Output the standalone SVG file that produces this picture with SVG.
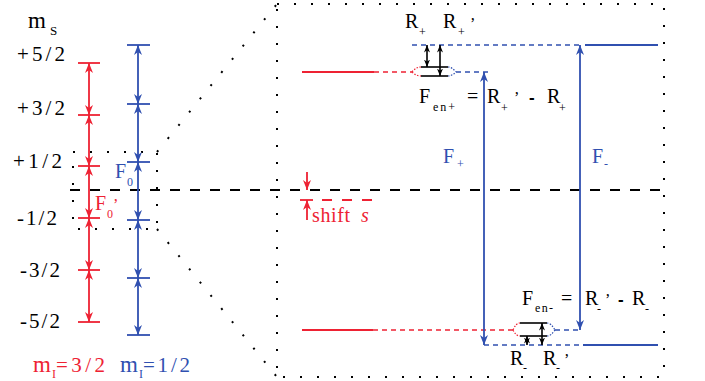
<svg xmlns="http://www.w3.org/2000/svg" width="705" height="381" viewBox="0 0 705 381" font-family="'Liberation Serif','DejaVu Serif',serif">
<defs>
<style>
.r{stroke:#ee2233;fill:none;stroke-width:1.8}
.b{stroke:#3050b0;fill:none;stroke-width:1.8}
.k{stroke:#000;fill:none;stroke-width:1.6}
.rd{stroke:#ee2233;fill:none;stroke-width:1.5;stroke-dasharray:5 4}
.bd{stroke:#3050b0;fill:none;stroke-width:1.5;stroke-dasharray:5 4}
.rdot{stroke:#ee2233;fill:none;stroke-width:1.2;stroke-dasharray:1.5 1.5}
.bdot{stroke:#3050b0;fill:none;stroke-width:1.2;stroke-dasharray:1.5 1.5}
.dot{stroke:#000;fill:none;stroke-width:2;stroke-dasharray:2 15}
.dash{stroke:#000;fill:none;stroke-width:2;stroke-dasharray:10 10}
.ra{marker-start:url(#mr);marker-end:url(#mr)}
.ba{marker-start:url(#mb);marker-end:url(#mb)}
.ka{marker-start:url(#mk);marker-end:url(#mk)}
text{font-family:'Liberation Serif','DejaVu Serif',serif;font-size:20px;fill:#000}
.tr{fill:#ee2233}
.tb{fill:#3050b0}
.s{font-size:12px}
.sans{font-family:'Liberation Sans','DejaVu Sans',sans-serif;font-weight:bold;font-size:17px}
</style>
<marker id="mr" viewBox="0 0 10 8" refX="10" refY="4" markerWidth="10" markerHeight="8" orient="auto-start-reverse" markerUnits="userSpaceOnUse"><path d="M0,0 L10,4 L0,8 L3,4 Z" fill="#ee2233"/></marker>
<marker id="mb" viewBox="0 0 10 8" refX="10" refY="4" markerWidth="10" markerHeight="8" orient="auto-start-reverse" markerUnits="userSpaceOnUse"><path d="M0,0 L10,4 L0,8 L3,4 Z" fill="#3050b0"/></marker>
<marker id="mk" viewBox="0 0 10 8" refX="10" refY="4" markerWidth="7.5" markerHeight="6" orient="auto-start-reverse" markerUnits="userSpaceOnUse"><path d="M0,0 L10,4 L0,8 L3,4 Z" fill="#000"/></marker>
</defs>

<!-- frames and zoom lines -->
<g id="frames">
<rect class="dot" x="73" y="152" width="84" height="77"/>
<rect class="dot" x="277" y="4" width="387" height="373"/>
<line class="dot" x1="157" y1="152" x2="277" y2="4"/>
<line class="dot" x1="157" y1="229" x2="277" y2="377"/>
<line class="dash" x1="70" y1="190" x2="660" y2="190"/>
</g>

<!-- left axis labels -->
<g id="ms-labels">
<text x="28" y="28" style="font-size:23px">m</text><text class="s" x="50" y="35" style="font-size:13px">S</text>
<text x="17" y="61" style="font-size:21px" textLength="48">+5/2</text>
<text x="17" y="115" style="font-size:21px" textLength="48">+3/2</text>
<text x="13" y="168" style="font-size:21px" textLength="49">+1/2</text>
<text x="17" y="225" style="font-size:21px" textLength="40">-1/2</text>
<text x="20" y="277" style="font-size:21px" textLength="40">-3/2</text>
<text x="20" y="328" style="font-size:21px" textLength="40">-5/2</text>
</g>

<!-- red ladder mI=3/2 -->
<g id="red-ladder">
<g class="r">
<line x1="78" y1="63" x2="100" y2="63"/>
<line x1="78" y1="115" x2="100" y2="115"/>
<line x1="78" y1="166" x2="100" y2="166"/>
<line x1="78" y1="218" x2="100" y2="218"/>
<line x1="78" y1="270" x2="100" y2="270"/>
<line x1="78" y1="322" x2="100" y2="322"/>
</g>
<g class="r ra">
<line x1="89" y1="63" x2="89" y2="115"/>
<line x1="89" y1="115" x2="89" y2="166"/>
<line x1="89" y1="166" x2="89" y2="218"/>
<line x1="89" y1="218" x2="89" y2="270"/>
<line x1="89" y1="270" x2="89" y2="322"/>
</g>
<text class="tr" x="95" y="210">F</text><text class="tr s" x="107" y="218">0</text><text class="tr" x="113" y="210" style="font-size:16px">’</text>
<text class="tr" x="33" y="372" style="font-size:23px">m</text><text class="tr s" x="52" y="378">I</text><text class="tr" x="56" y="372" style="font-size:21px" textLength="49">=3/2</text>
</g>

<!-- blue ladder mI=1/2 -->
<g id="blue-ladder">
<g class="b">
<line x1="127" y1="45" x2="150" y2="45"/>
<line x1="127" y1="104" x2="150" y2="104"/>
<line x1="127" y1="162" x2="150" y2="162"/>
<line x1="127" y1="220" x2="150" y2="220"/>
<line x1="127" y1="278" x2="150" y2="278"/>
<line x1="127" y1="335" x2="150" y2="335"/>
</g>
<g class="b ba">
<line x1="138" y1="45" x2="138" y2="104"/>
<line x1="138" y1="104" x2="138" y2="162"/>
<line x1="138" y1="162" x2="138" y2="220"/>
<line x1="138" y1="220" x2="138" y2="278"/>
<line x1="138" y1="278" x2="138" y2="335"/>
</g>
<text class="tb" x="115" y="178">F</text><text class="tb s" x="127" y="186">0</text>
<text class="tb" x="120" y="372" style="font-size:23px">m</text><text class="tb s" x="139" y="378">I</text><text class="tb" x="143" y="372" style="font-size:21px" textLength="47">=1/2</text>
</g>

<!-- shift s -->
<g id="shift">
<line class="r" x1="307" y1="172" x2="307" y2="190" style="marker-end:url(#mr)"/>
<line class="r" x1="307" y1="220" x2="307" y2="200" style="marker-end:url(#mr)"/>
<line class="r" x1="300" y1="200" x2="313" y2="200"/>
<line class="r" x1="322" y1="200" x2="372" y2="200" style="stroke-dasharray:10 10"/>
<text class="tr" x="312" y="222" textLength="38">shift</text><text class="tr" x="361" y="222" style="font-style:italic">s</text>
</g>

<!-- upper levels (inset) -->
<g id="upper-levels">
<line class="r" x1="302" y1="72" x2="374" y2="72"/>
<line class="rd" x1="374" y1="72" x2="412" y2="72"/>
<path class="rdot" d="M412,72 Q416,67 421,67 M412,72 Q416,76 421,76"/>
<line class="k" x1="421" y1="67" x2="448" y2="67"/>
<line class="k" x1="421" y1="76" x2="448" y2="76"/>
<path class="bdot" d="M448,67 Q452,67 456,72 M448,76 Q452,76 456,72"/>
<line class="bd" x1="456" y1="72" x2="490" y2="72"/>
<line class="bd" x1="412" y1="45" x2="582" y2="45"/>
<line class="b" x1="585" y1="45" x2="658" y2="45"/>
<line class="k ka" x1="427" y1="45" x2="427" y2="67"/>
<line class="k ka" x1="440" y1="45" x2="440" y2="76"/>
<text x="405" y="28">R</text><text class="s" x="419" y="36">+</text>
<text x="443" y="28">R</text><text class="s" x="458" y="36">+</text><text x="470" y="29" style="font-size:16px">’</text>
<text x="419" y="103">F</text><text class="s" x="433" y="111" textLength="22">en+</text>
<text x="467" y="103">=</text>
<text x="487" y="103">R</text><text class="s" x="501" y="112">+</text><text x="514" y="103" style="font-size:16px">’</text>
<text class="sans" x="529" y="103">-</text>
<text x="547" y="103">R</text><text class="s" x="559" y="112">+</text>
</g>

<!-- lower levels (inset) -->
<g id="lower-levels">
<line class="r" x1="302" y1="330" x2="373" y2="330"/>
<line class="rd" x1="373" y1="330" x2="513" y2="330"/>
<path class="rdot" d="M513,330 Q516,323 520,323 M513,330 Q516,336 520,336"/>
<line class="k" x1="520" y1="323" x2="547" y2="323"/>
<line class="k" x1="520" y1="336" x2="547" y2="336"/>
<path class="bdot" d="M547,323 Q551,323 555,330 M547,336 Q551,336 555,330"/>
<line class="bd" x1="555" y1="330" x2="580" y2="330"/>
<line class="bd" x1="484" y1="345" x2="582" y2="345"/>
<line class="b" x1="583" y1="345" x2="658" y2="345"/>
<line class="k ka" x1="527" y1="336" x2="527" y2="345"/>
<line class="k ka" x1="542" y1="323" x2="542" y2="345"/>
<text x="522" y="305">F</text><text class="s" x="535" y="312" textLength="18">en-</text>
<text x="561" y="305">=</text>
<text x="585" y="305">R</text><text class="s" x="597" y="313">-</text><text x="605" y="305" style="font-size:16px">’</text>
<text class="sans" x="618" y="305">-</text>
<text x="632" y="305">R</text><text class="s" x="645" y="313">-</text>
<text x="510" y="365">R</text><text class="s" x="523" y="372">-</text>
<text x="543" y="365">R</text><text class="s" x="556" y="372">-</text><text x="564" y="365" style="font-size:16px">’</text>
</g>

<!-- transitions -->
<g id="connectors">
<line class="b ba" x1="484" y1="72" x2="484" y2="345"/>
<line class="b ba" x1="580" y1="45" x2="580" y2="330"/>
<text class="tb" x="443" y="163">F</text><text class="tb s" x="457" y="168">+</text>
<text class="tb" x="592" y="163">F</text><text class="tb s" x="604" y="168">-</text>
</g>
</svg>
